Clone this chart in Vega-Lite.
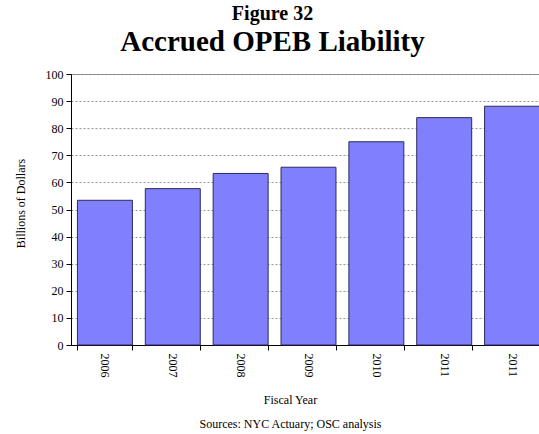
{
  "$schema": "https://vega.github.io/schema/vega-lite/v6.json",
  "autosize": "none",
  "width": 475,
  "height": 271,
  "padding": {"left": 71, "top": 74, "right": -7, "bottom": 89},
  "background": "white",
  "title": {
    "text": "Figure 32",
    "subtitle": "Accrued OPEB Liability",
    "font": "Liberation Serif",
    "fontSize": 20,
    "fontWeight": "bold",
    "color": "black",
    "subtitleFont": "Liberation Serif",
    "subtitleFontSize": 29,
    "subtitleFontWeight": "bold",
    "subtitleColor": "black",
    "subtitlePadding": 4,
    "anchor": "middle",
    "dx": -36,
    "offset": 11
  },
  "data": {
    "values": [
      {"key": "2006", "year": "2006", "liability": 53.4},
      {"key": "2007", "year": "2007", "liability": 57.7},
      {"key": "2008", "year": "2008", "liability": 63.3},
      {"key": "2009", "year": "2009", "liability": 65.6},
      {"key": "2010", "year": "2010", "liability": 75.0},
      {"key": "2011", "year": "2011", "liability": 83.9},
      {"key": "2011-b", "year": "2011", "liability": 88.1}
    ]
  },
  "config": {
    "view": {"stroke": "#808080", "strokeWidth": 1},
    "axis": {
      "labelFont": "Liberation Serif",
      "titleFont": "Liberation Serif",
      "labelFontSize": 12,
      "titleFontSize": 12,
      "labelColor": "black",
      "titleColor": "black",
      "titleFontWeight": "normal",
      "domainColor": "black",
      "tickColor": "black"
    }
  },
  "mark": {"type": "bar", "fill": "#8080ff", "stroke": "#2a2a5a", "strokeWidth": 1},
  "encoding": {
    "x": {
      "field": "key",
      "type": "nominal",
      "sort": null,
      "scale": {"paddingInner": 0.19, "paddingOuter": 0.095},
      "axis": {
        "title": ["Fiscal Year", "Sources: NYC Actuary; OSC analysis"],
        "titleLineHeight": 24,
        "titleX": 219,
        "titleY": 58,
        "titleBaseline": "alphabetic",
        "labelExpr": "substring(datum.label, 0, 4)",
        "labelAngle": 90,
        "labelPadding": 3,
        "tickSize": 5,
        "tickBand": "extent",
        "grid": false
      }
    },
    "y": {
      "field": "liability",
      "type": "quantitative",
      "scale": {"domain": [0, 100]},
      "axis": {
        "title": "Billions of Dollars",
        "titleX": -51,
        "titleY": 129,
        "titleBaseline": "middle",
        "values": [0, 10, 20, 30, 40, 50, 60, 70, 80, 90, 100],
        "tickSize": 5,
        "labelPadding": 3,
        "grid": true,
        "gridColor": "#999999",
        "gridDash": [2, 2],
        "gridWidth": 1
      }
    }
  }
}
